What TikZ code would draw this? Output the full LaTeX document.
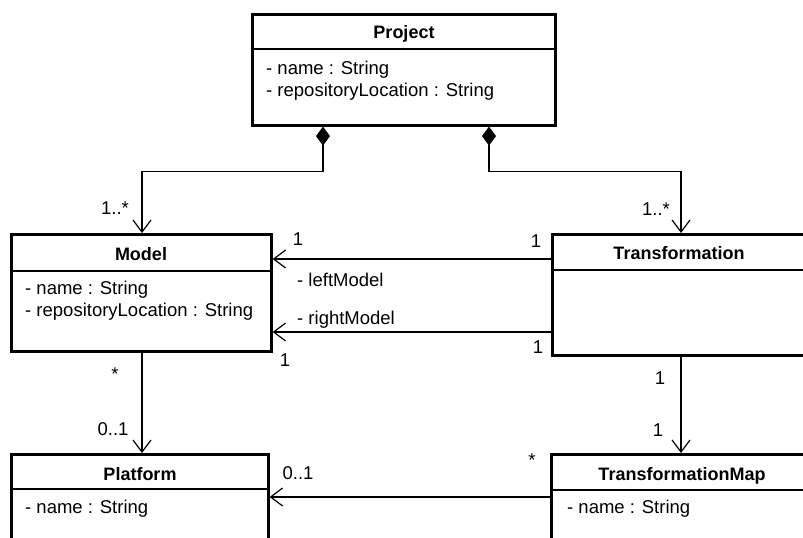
\documentclass[tikz,border=0pt]{standalone}
\usepackage{fontspec}
\setmainfont{Liberation Sans}
\usetikzlibrary{arrows.meta}
\begin{document}
\begin{tikzpicture}[x=1pt,y=-1pt]
\tikzset{class/.style = {shape=rectangle,draw,line width=2.6pt,anchor=north west,inner sep=0pt}}
\tikzset{title/.style = {anchor=base,inner sep=0pt,font=\fontsize{18}{21}\selectfont\bfseries}}
\tikzset{attr/.style = {anchor=base west,inner sep=0pt,font=\fontsize{18.5}{21}\selectfont}}
\tikzset{mult/.style = {inner sep=0pt,font=\fontsize{18.5}{21}\selectfont}}
\tikzset{divider/.style = {line width=1.2pt}}
\tikzset{edge/.style = {line width=1.2pt,-{Straight Barb[length=12pt,width=18pt]}}}
\tikzset{part/.style = {line width=1.2pt,{Diamond[length=19pt,width=14pt]}-{Straight Barb[length=12pt,width=18pt]}}}
\useasboundingbox (0,0) rectangle (803,538);
\clip (0,0) rectangle (803,538);
\fill[white] (0,0) rectangle (803,538);
% classes
\node[class,minimum width=303pt,minimum height=111pt] (project) at (251,13) {};
\node[class,minimum width=260pt,minimum height=117pt] (model) at (10,233) {};
\node[class,minimum width=255pt,minimum height=121pt] (transform) at (551,233) {};
\node[class,minimum width=257pt,minimum height=120pt] (platform) at (10,453) {};
\node[class,minimum width=262pt,minimum height=120pt] (tmap) at (550,453) {};
\draw[divider] ([yshift=-36pt]project.north west) -- ([yshift=-36pt]project.north east);
\draw[divider] ([yshift=-38pt]model.north west) -- ([yshift=-38pt]model.north east);
\draw[divider] ([yshift=-37pt]transform.north west) -- ([yshift=-37pt]transform.north east);
\draw[divider] ([yshift=-36pt]platform.north west) -- ([yshift=-36pt]platform.north east);
\draw[divider] ([yshift=-37pt]tmap.north west) -- ([yshift=-37pt]tmap.north east);
% names and attributes
\node[title] (project-t) at (404,38) {Project};
\node[attr] (project-a1) at (266,74) {- name : String};
\node[attr] (project-a2) at (266,96) {- repositoryLocation : String};
\node[title] (model-t) at (141,260) {Model};
\node[attr] (model-a1) at (25,294) {- name : String};
\node[attr] (model-a2) at (25,316) {- repositoryLocation : String};
\node[title] (transform-t) at (679,259) {Transformation};
\node[title] (platform-t) at (140,480) {Platform};
\node[attr] (platform-a1) at (25,513) {- name : String};
\node[title] (tmap-t) at (682,480) {TransformationMap};
\node[attr] (tmap-a1) at (567,513) {- name : String};
% connectors
\draw[part] ([xshift=72pt]project.south west) -- ++(0,45) -| ([xshift=132pt]model.north west);
\draw[part] ([xshift=238pt]project.south west) -- ++(0,45) -| ([xshift=130pt]transform.north west);
\draw[edge] ([yshift=-26pt]transform.north west) -- ([yshift=-26pt]model.north east);
\draw[edge] ([yshift=-99pt]transform.north west) -- ([yshift=-99pt]model.north east);
\draw[edge] ([xshift=132pt]model.south west) -- ([xshift=132pt]platform.north west);
\draw[edge] ([xshift=130pt]transform.south west) -- ([xshift=131pt]tmap.north west);
\draw[edge] ([yshift=-44pt]tmap.north west) -- ([yshift=-44pt]platform.north east);
% multiplicities and roles
\node[mult] (m1) at (115,208) {1..*};
\node[mult] (m2) at (656,209) {1..*};
\node[mult] (m3) at (298,239) {1};
\node[mult] (m4) at (536,241) {1};
\node[attr] (left-role) at (297,286) {- leftModel};
\node[attr] (right-role) at (297,324) {- rightModel};
\node[mult] (m5) at (285,360) {1};
\node[mult] (m6) at (538,347) {1};
\node[mult] (m7) at (115,374) {*};
\node[mult] (m8) at (113,429) {0..1};
\node[mult] (m9) at (660,378) {1};
\node[mult] (m10) at (658,430) {1};
\node[mult] (m11) at (298,473) {0..1};
\node[mult] (m12) at (532,460) {*};
\end{tikzpicture}
\end{document}
